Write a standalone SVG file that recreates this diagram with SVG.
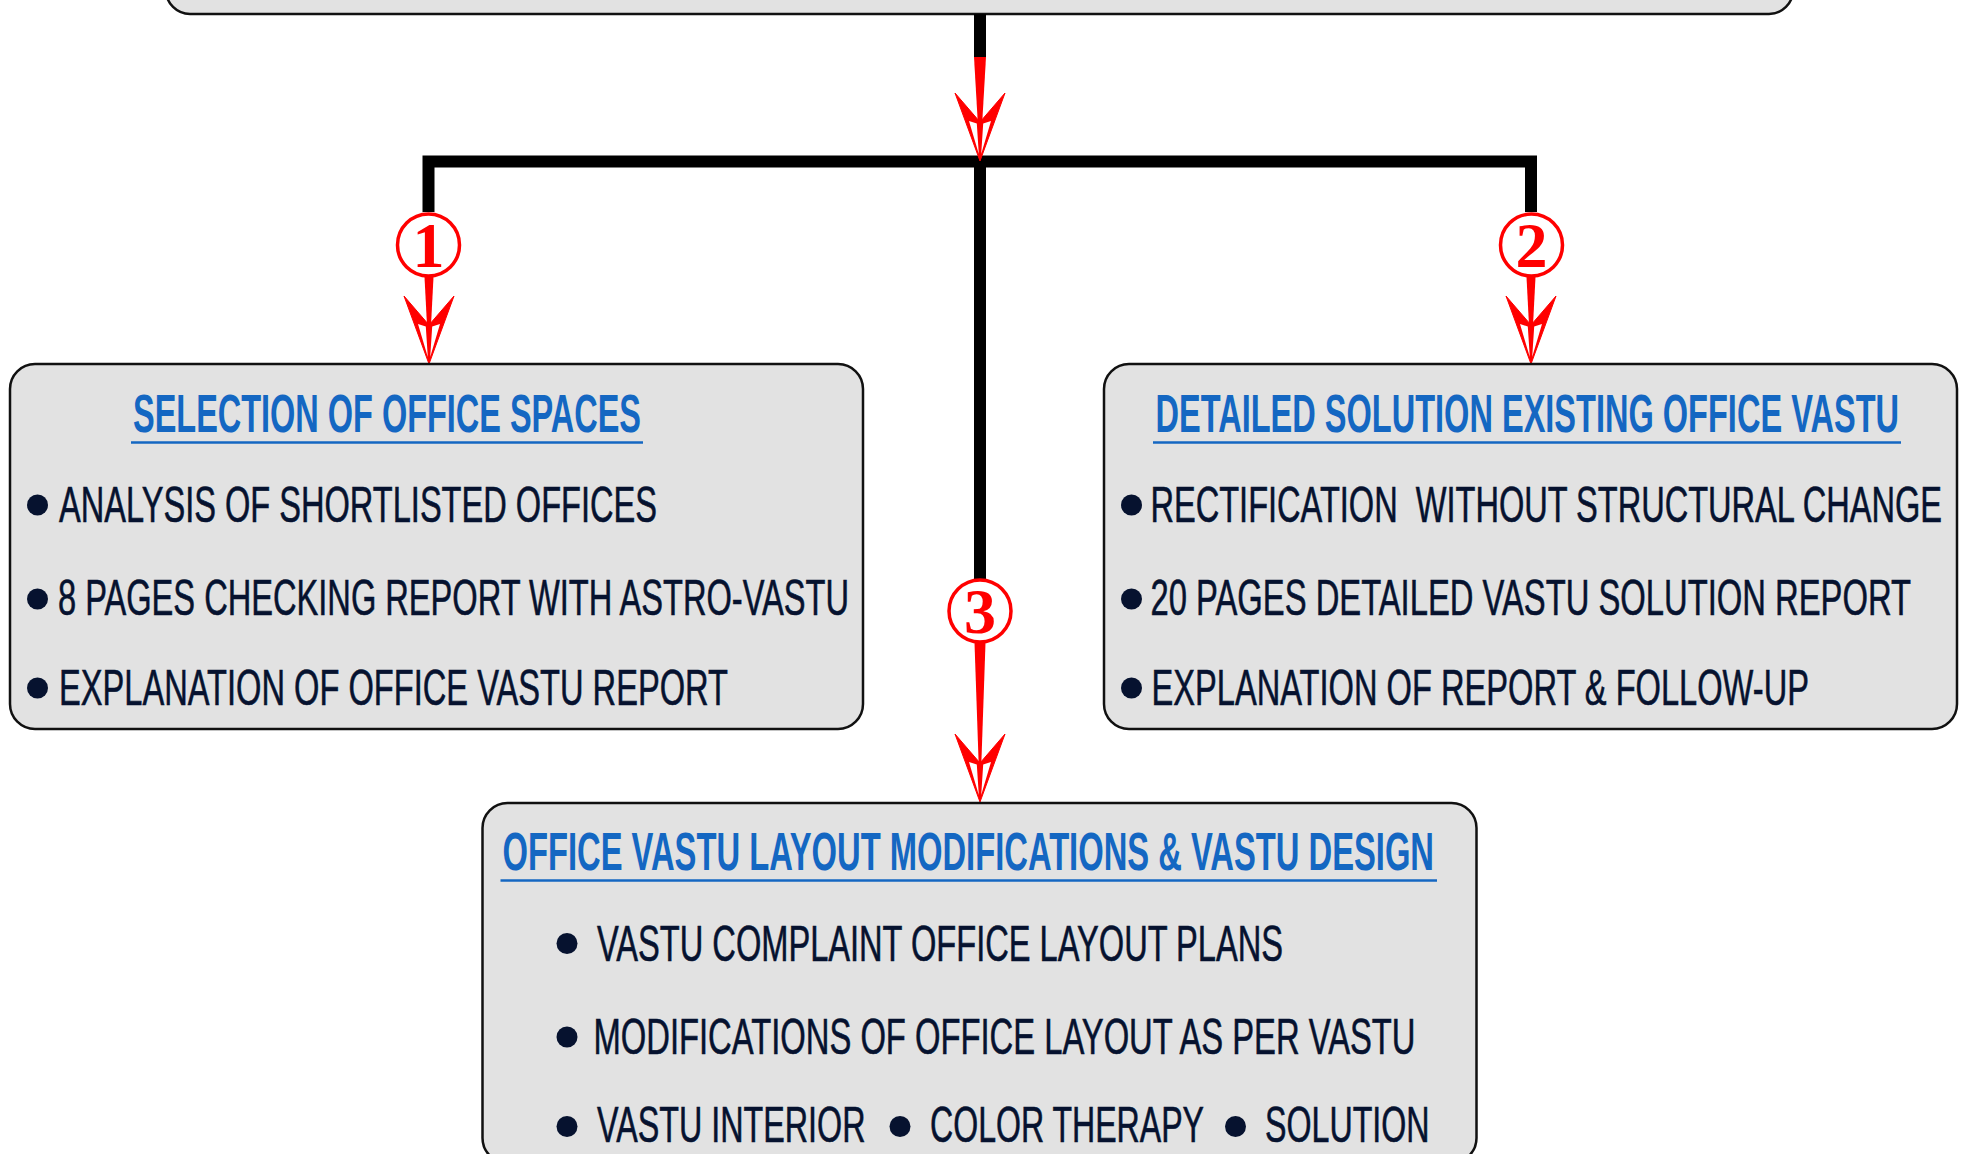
<svg xmlns="http://www.w3.org/2000/svg" xmlns:xlink="http://www.w3.org/1999/xlink" width="1969" height="1154" viewBox="0 0 1969 1154">
<style>
  .box { fill: #e2e2e2; stroke: #111111; stroke-width: 2.5; }
  .title { font-family: "Liberation Sans Narrow", "Liberation Sans", Arial, sans-serif; font-weight: bold; font-size: 54px; fill: #1467c2; }
  .uline { stroke: #1467c2; stroke-width: 2.5; }
  .item { font-family: "Liberation Sans Narrow", "Liberation Sans", Arial, sans-serif; font-size: 50px; fill: #06122f; stroke: #06122f; stroke-width: 0.6; }
  .dot { fill: #06122f; }
  .wire { fill: none; stroke: #000000; stroke-width: 12; stroke-linejoin: miter; stroke-linecap: butt; }
  .shaft { fill: #ff0000; }
  .head { fill: #ff0000; stroke: #ff0000; stroke-width: 1; stroke-linejoin: miter; stroke-miterlimit: 3; }
  .slit { fill: #ffffff; }
  .badge { fill: #ffffff; stroke: #ff0000; stroke-width: 3.5; }
  .num { font-family: "Liberation Serif", "Times New Roman", serif; font-weight: bold; font-size: 64px; fill: #ff0000; text-anchor: middle; }
</style>
<defs>
  <g id="ah">
    <path class="head" d="M-25,-68 L0,0 L25,-68 L0,-39 Z"/>
    <path class="slit" d="M-11,-40 L-3.2,-37.5 L-1.2,-7 Z M11,-40 L3.2,-37.5 L1.2,-7 Z"/>
  </g>
</defs>
<rect width="1969" height="1154" fill="#ffffff"/>

<g id="top-node">
  <rect class="box" x="166" y="-60" width="1627" height="74" rx="24"/>
</g>

<g id="connectors">
  <path class="wire" d="M980,14 V57"/>
  <path class="wire" d="M428.5,212 V161.5 H1531 V212"/>
  <path class="wire" d="M980,161.5 V580"/>
  <use xlink:href="#ah" transform="translate(980,161)"/>
  <polygon class="shaft" points="974,57 986,57 980,161"/>
  <use xlink:href="#ah" transform="translate(429,364)"/>
  <polygon class="shaft" points="424.5,277 433.5,277 429,364"/>
  <use xlink:href="#ah" transform="translate(1531,364)"/>
  <polygon class="shaft" points="1526.5,277 1535.5,277 1531,364"/>
  <use xlink:href="#ah" transform="translate(980,802)"/>
  <polygon class="shaft" points="974.5,643 985.5,643 980,802"/>
  <g id="badge-1">
    <circle class="badge" cx="428.5" cy="245" r="31"/>
    <text class="num" x="428.5" y="267">1</text>
  </g>
  <g id="badge-2">
    <circle class="badge" cx="1531.5" cy="245" r="31"/>
    <text class="num" x="1531.5" y="267">2</text>
  </g>
  <g id="badge-3">
    <circle class="badge" cx="980" cy="611" r="31"/>
    <text class="num" x="980" y="633">3</text>
  </g>
</g>

<g id="node-selection">
  <rect class="box" x="10" y="364" width="853" height="365" rx="25"/>
  <text class="title" x="133" y="432" textLength="508" lengthAdjust="spacingAndGlyphs">SELECTION OF OFFICE SPACES</text>
  <line class="uline" x1="131" y1="442.5" x2="643" y2="442.5"/>
  <circle class="dot" cx="37.5" cy="505" r="10.5"/>
  <text class="item" x="59" y="522" textLength="598" lengthAdjust="spacingAndGlyphs">ANALYSIS OF SHORTLISTED OFFICES</text>
  <circle class="dot" cx="37.5" cy="599" r="10.5"/>
  <text class="item" x="58" y="615" textLength="791" lengthAdjust="spacingAndGlyphs">8 PAGES CHECKING REPORT WITH ASTRO-VASTU</text>
  <circle class="dot" cx="37.5" cy="688" r="10.5"/>
  <text class="item" x="59" y="705" textLength="669" lengthAdjust="spacingAndGlyphs">EXPLANATION OF OFFICE VASTU REPORT</text>
</g>

<g id="node-existing">
  <rect class="box" x="1104" y="364" width="853" height="365" rx="25"/>
  <text class="title" x="1155.5" y="432" textLength="743.5" lengthAdjust="spacingAndGlyphs">DETAILED SOLUTION EXISTING OFFICE VASTU</text>
  <line class="uline" x1="1153" y1="442.5" x2="1901" y2="442.5"/>
  <circle class="dot" cx="1131.5" cy="505" r="10.5"/>
  <text class="item" x="1150.5" y="522" textLength="791.5" lengthAdjust="spacingAndGlyphs" xml:space="preserve">RECTIFICATION  WITHOUT STRUCTURAL CHANGE</text>
  <circle class="dot" cx="1131.5" cy="599" r="10.5"/>
  <text class="item" x="1150.5" y="615" textLength="760.5" lengthAdjust="spacingAndGlyphs">20 PAGES DETAILED VASTU SOLUTION REPORT</text>
  <circle class="dot" cx="1131.5" cy="688" r="10.5"/>
  <text class="item" x="1151.5" y="705" textLength="657.5" lengthAdjust="spacingAndGlyphs">EXPLANATION OF REPORT &amp; FOLLOW-UP</text>
</g>

<g id="node-layout">
  <rect class="box" x="482.5" y="803" width="994" height="360" rx="25"/>
  <text class="title" x="502.5" y="870" textLength="931.5" lengthAdjust="spacingAndGlyphs">OFFICE VASTU LAYOUT MODIFICATIONS &amp; VASTU DESIGN</text>
  <line class="uline" x1="500.5" y1="880.5" x2="1437" y2="880.5"/>
  <circle class="dot" cx="567" cy="943.5" r="10.5"/>
  <text class="item" x="597" y="961" textLength="686" lengthAdjust="spacingAndGlyphs">VASTU COMPLAINT OFFICE LAYOUT PLANS</text>
  <circle class="dot" cx="567" cy="1037" r="10.5"/>
  <text class="item" x="593.5" y="1054" textLength="822" lengthAdjust="spacingAndGlyphs">MODIFICATIONS OF OFFICE LAYOUT AS PER VASTU</text>
  <circle class="dot" cx="567" cy="1126.5" r="10.5"/>
  <text class="item" x="597" y="1141.5" textLength="268.5" lengthAdjust="spacingAndGlyphs">VASTU INTERIOR</text>
  <circle class="dot" cx="900" cy="1126.5" r="10.5"/>
  <text class="item" x="930" y="1141.5" textLength="274" lengthAdjust="spacingAndGlyphs">COLOR THERAPY</text>
  <circle class="dot" cx="1235.5" cy="1126.5" r="10.5"/>
  <text class="item" x="1265" y="1141.5" textLength="164.5" lengthAdjust="spacingAndGlyphs">SOLUTION</text>
</g>
</svg>
